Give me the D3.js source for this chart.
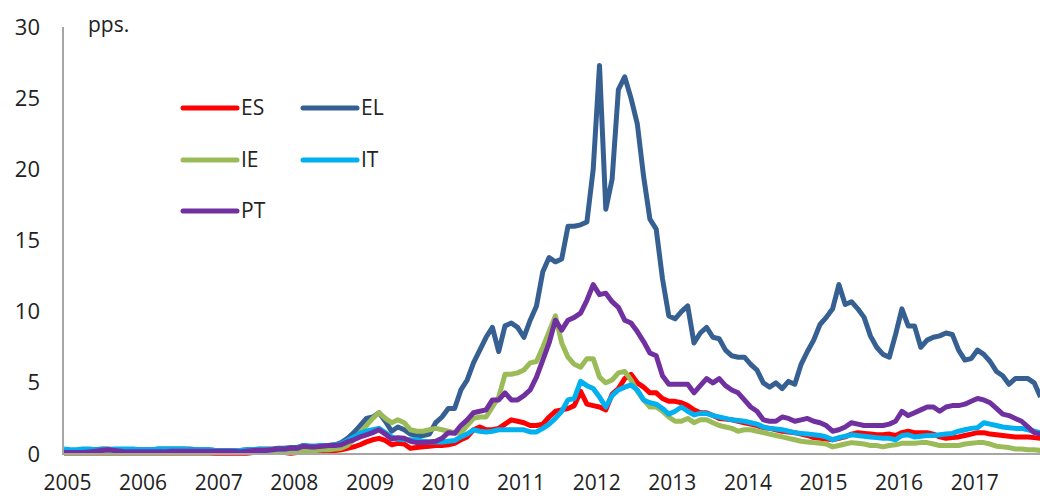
<!DOCTYPE html>
<html>
<head>
<meta charset="utf-8">
<script src="https://cdn.jsdelivr.net/npm/d3@7"></script>
<style>
  html, body { margin: 0; padding: 0; background: #fff; }
  svg { display: block; font-family: "Open Sans", "DejaVu Sans", sans-serif; }
</style>
</head>
<body>
<svg id="chart" width="1040" height="497"></svg>
<script>
const years = ["2005","2006","2007","2008","2009","2010","2011","2012","2013","2014","2015","2016","2017"];
const yTicks = [0, 5, 10, 15, 20, 25, 30];
const seriesNames = ["ES", "EL", "IE", "IT", "PT"];

// Monthly values, Jan 2005 - Dec 2017 (pps.)
const ES = [
  0.05,0.05,0.05,0.05,0.05,0.05,0.05,0.05,0.05,0.05,0.05,0.05,
  0.05,0.05,0.05,0.05,0.05,0.05,0.05,0.05,0.05,0.05,0.05,0.05,
  0.05,0.05,0.05,0.05,0.05,0.05,0.1,0.1,0.1,0.1,0.1,0.1,
  0.05,0.1,0.1,0.1,0.1,0.15,0.2,0.25,0.3,0.4,0.5,0.65,
  0.85,1.0,1.1,0.95,0.65,0.75,0.7,0.4,0.45,0.5,0.55,0.6,
  0.6,0.65,0.75,1.0,1.2,1.7,1.9,1.7,1.7,1.8,2.1,2.4,
  2.3,2.2,2.0,2.0,2.1,2.6,3.0,3.1,3.2,3.4,4.4,3.5,
  3.4,3.3,3.1,4.2,4.6,5.3,5.6,5.0,4.7,4.3,4.3,3.9,
  3.7,3.7,3.6,3.4,3.1,2.9,2.9,2.7,2.5,2.45,2.4,2.3,
  2.2,2.1,2.0,1.85,1.8,1.7,1.6,1.55,1.5,1.4,1.3,1.15,
  1.1,1.05,1.0,1.1,1.2,1.4,1.5,1.45,1.4,1.35,1.35,1.4,
  1.3,1.5,1.6,1.5,1.5,1.5,1.4,1.2,1.1,1.15,1.2,1.3,
  1.4,1.5,1.5,1.4,1.35,1.3,1.25,1.2,1.2,1.2,1.15,1.1
];
const EL = [
  0.25,0.25,0.25,0.3,0.3,0.3,0.35,0.35,0.3,0.3,0.3,0.3,
  0.3,0.3,0.3,0.35,0.35,0.35,0.35,0.35,0.35,0.3,0.3,0.3,
  0.25,0.25,0.25,0.25,0.25,0.3,0.3,0.35,0.35,0.35,0.4,0.4,
  0.45,0.45,0.6,0.55,0.55,0.6,0.6,0.65,0.8,1.1,1.5,2.0,
  2.5,2.6,2.9,2.3,1.6,1.9,1.7,1.4,1.3,1.3,1.4,2.2,
  2.6,3.2,3.2,4.5,5.2,6.4,7.3,8.2,8.9,7.2,9.0,9.2,
  8.9,8.2,9.4,10.4,12.8,13.8,13.5,13.7,16.0,16.0,16.1,16.3,
  20.0,27.3,17.2,19.3,25.6,26.5,25.0,23.2,19.5,16.5,15.8,12.3,
  9.7,9.5,10.0,10.4,7.8,8.5,8.9,8.2,8.1,7.3,6.9,6.8,
  6.8,6.3,5.9,5.0,4.7,5.0,4.6,5.1,4.9,6.3,7.2,8.0,
  9.1,9.6,10.2,11.9,10.5,10.7,10.2,9.6,8.3,7.5,7.0,6.8,
  8.4,10.2,9.0,9.0,7.5,8.0,8.2,8.3,8.5,8.4,7.3,6.6,
  6.7,7.3,7.0,6.5,5.8,5.5,4.9,5.3,5.3,5.3,5.0,4.0
];
const IE = [
  0.05,0.05,0.05,0.05,0.05,0.05,0.05,0.05,0.05,0.05,0.05,0.05,
  0.05,0.05,0.05,0.05,0.05,0.05,0.05,0.05,0.05,0.05,0.05,0.05,
  0.1,0.1,0.1,0.1,0.1,0.1,0.1,0.15,0.15,0.15,0.15,0.15,
  0.15,0.2,0.25,0.25,0.25,0.3,0.3,0.35,0.4,0.6,1.0,1.5,
  2.0,2.5,2.9,2.5,2.2,2.4,2.2,1.7,1.6,1.6,1.7,1.8,
  1.7,1.6,1.5,1.45,2.0,2.5,2.6,2.6,3.3,4.0,5.6,5.6,
  5.7,5.9,6.4,6.5,7.5,8.6,9.7,7.8,6.8,6.3,6.1,6.7,
  6.7,5.4,5.0,5.2,5.7,5.8,5.2,4.4,3.8,3.3,3.3,3.0,
  2.6,2.3,2.3,2.5,2.2,2.4,2.4,2.2,2.0,1.9,1.8,1.6,
  1.7,1.7,1.6,1.5,1.4,1.3,1.2,1.1,1.0,0.9,0.85,0.8,
  0.75,0.7,0.5,0.6,0.7,0.8,0.75,0.7,0.6,0.6,0.5,0.6,
  0.65,0.75,0.75,0.75,0.8,0.8,0.7,0.6,0.6,0.6,0.6,0.7,
  0.75,0.8,0.8,0.7,0.55,0.5,0.45,0.35,0.35,0.3,0.3,0.25
];
const IT = [
  0.35,0.3,0.3,0.35,0.35,0.3,0.3,0.3,0.35,0.35,0.35,0.35,
  0.3,0.3,0.3,0.35,0.35,0.35,0.35,0.35,0.3,0.3,0.3,0.3,
  0.25,0.25,0.25,0.25,0.25,0.3,0.3,0.3,0.3,0.3,0.35,0.35,
  0.4,0.4,0.6,0.55,0.55,0.6,0.6,0.65,0.7,0.95,1.2,1.45,
  1.6,1.7,1.8,1.5,1.2,1.05,1.0,1.0,1.0,0.9,0.85,0.85,
  0.85,0.9,0.95,1.2,1.4,1.7,1.6,1.55,1.6,1.7,1.7,1.7,
  1.7,1.7,1.55,1.55,1.8,2.1,2.5,3.0,3.8,3.9,5.1,4.8,
  4.6,4.0,3.3,4.1,4.5,4.7,4.85,4.5,3.8,3.6,3.5,3.2,
  2.8,3.0,3.3,3.0,2.75,2.85,2.85,2.7,2.6,2.5,2.4,2.35,
  2.3,2.2,2.1,1.9,1.8,1.75,1.7,1.6,1.5,1.45,1.4,1.35,
  1.3,1.2,1.0,1.15,1.25,1.35,1.3,1.25,1.2,1.15,1.1,1.1,
  1.0,1.3,1.35,1.2,1.25,1.3,1.3,1.35,1.4,1.45,1.6,1.7,
  1.8,1.85,2.2,2.1,2.0,1.9,1.85,1.8,1.8,1.7,1.6,1.5
];
const PT = [
  0.1,0.1,0.1,0.1,0.15,0.2,0.25,0.3,0.25,0.2,0.15,0.15,
  0.15,0.15,0.15,0.15,0.15,0.2,0.2,0.2,0.2,0.2,0.2,0.2,
  0.2,0.2,0.2,0.2,0.15,0.2,0.25,0.25,0.25,0.3,0.35,0.35,
  0.4,0.4,0.55,0.5,0.5,0.55,0.6,0.6,0.65,0.85,1.0,1.2,
  1.35,1.5,1.7,1.4,1.05,1.15,1.1,0.9,0.8,0.8,0.85,0.9,
  1.1,1.5,1.45,2.0,2.4,2.9,3.0,3.1,3.8,3.8,4.3,3.8,
  3.8,4.1,4.5,5.4,6.6,7.8,9.4,8.7,9.4,9.6,9.9,10.8,
  11.9,11.2,11.3,10.7,10.3,9.4,9.2,8.6,7.9,7.1,6.9,5.5,
  4.9,4.9,4.9,4.9,4.3,4.8,5.3,5.0,5.3,4.8,4.5,4.3,
  3.8,3.3,3.0,2.4,2.3,2.3,2.6,2.5,2.3,2.4,2.5,2.3,
  2.2,2.0,1.6,1.7,1.9,2.2,2.1,2.0,2.0,2.0,2.0,2.1,
  2.3,3.0,2.7,2.9,3.1,3.3,3.3,3.0,3.3,3.4,3.4,3.5,
  3.7,3.9,3.8,3.6,3.2,2.8,2.7,2.5,2.3,1.9,1.5,1.4
];

const seriesValues = [ES, EL, IE, IT, PT];
const colors = ["#ff0000", "#376092", "#9bbb59", "#00b0f0", "#7030a0"];

const svg = d3.select("#chart");

const x = d3.scaleLinear().domain([0, 155]).range([64, 1040.5]);
const y = d3.scaleLinear().domain([0, 30]).range([454, 27]);

// Lines
const line = d3.line().x((d, i) => x(i)).y(d => y(d)).curve(d3.curveLinear);
const gLines = svg.append("g");
seriesValues.forEach((vals, k) => {
  gLines.append("path")
    .datum(vals)
    .attr("d", line)
    .attr("fill", "none")
    .attr("stroke", colors[k])
    .attr("stroke-width", 5)
    .attr("stroke-linejoin", "round");
});

// Axis lines
svg.append("line").attr("x1", 63).attr("x2", 63).attr("y1", y(30)).attr("y2", y(0))
  .attr("stroke", "#a6a6a6").attr("stroke-width", 2);
svg.append("line").attr("x1", 62).attr("x2", 1040).attr("y1", y(0)).attr("y2", y(0))
  .attr("stroke", "#a6a6a6").attr("stroke-width", 2);

// Y axis labels
const yAxis = d3.axisLeft(y).tickValues(yTicks).tickSize(0).tickPadding(23).tickFormat(d3.format("d"));
const gy = svg.append("g").attr("transform", "translate(63,0)").call(yAxis);
gy.select(".domain").remove();
gy.selectAll("text").attr("font-size", 22).attr("fill", "#222").attr("font-family", "Open Sans, sans-serif");

// X axis labels
const xAxis = d3.axisBottom(x).tickValues(years.map((d, i) => i * 12)).tickSize(0).tickPadding(21)
  .tickFormat((d, i) => years[i]);
const gx = svg.append("g").attr("transform", `translate(3,${y(0)})`).call(xAxis);
gx.select(".domain").remove();
gx.selectAll("text").attr("font-size", 21).attr("fill", "#222").attr("font-family", "Open Sans, sans-serif");

// Unit label
svg.append("text").attr("x", 88).attr("y", 32).attr("font-size", 21).attr("fill", "#222").text("pps.");

// Legend
const legendPos = [[183, 108], [303, 108], [183, 160], [303, 160], [183, 211]];
seriesNames.forEach((name, k) => {
  const [lx, ly] = legendPos[k];
  svg.append("line").attr("x1", lx).attr("x2", lx + 54).attr("y1", ly).attr("y2", ly)
    .attr("stroke", colors[k]).attr("stroke-width", 5).attr("stroke-linecap", "round");
  svg.append("text").attr("x", lx + 58).attr("y", ly).attr("dy", "0.35em")
    .attr("font-size", 21).attr("fill", "#222").text(name);
});
</script>
</body>
</html>
